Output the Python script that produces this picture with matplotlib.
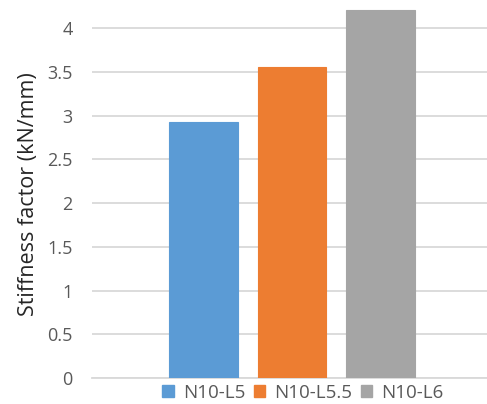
import matplotlib
matplotlib.use("Agg")
import matplotlib.pyplot as plt
from matplotlib.patches import Patch

series = ["N10-L5", "N10-L5.5", "N10-L6"]
values = [2.93, 3.56, 4.21]
colors = ["#5B9BD5", "#ED7D31", "#A5A5A5"]
yticks = [0, 0.5, 1, 1.5, 2, 2.5, 3, 3.5, 4]
ytick_labels = ["0", "0.5", "1", "1.5", "2", "2.5", "3", "3.5", "4"]

plt.rcParams['font.family'] = ['Open Sans', 'DejaVu Sans']

fig = plt.figure(figsize=(4.87, 4.04), dpi=100)
ax = fig.add_axes([92 / 487, 26 / 404, 1 - 92 / 487, 1 - 26 / 404])

x = list(range(len(series)))
for xi, v, c, name in zip(x, values, colors, series):
    ax.bar(xi, v, width=0.775, color=c, edgecolor=c, linewidth=0.8, label=name, zorder=3)

ax.set_xlim(-1.262, 3.206)
ax.set_ylim(0, 4.32)
ax.set_yticks(yticks)
ax.set_yticklabels(ytick_labels)
ax.set_xticks([])
ax.grid(axis='y', color='#D9D9D9', linewidth=1.3, zorder=0)
for s in ['top', 'right', 'left']:
    ax.spines[s].set_visible(False)
ax.spines['bottom'].set_color('#D9D9D9')
ax.spines['bottom'].set_linewidth(1.3)
ax.tick_params(axis='y', length=0, labelsize=13, labelcolor='#595959', pad=14)
ax.set_ylabel("Stiffness factor (kN/mm)", fontsize=15.5, color='#262626')
ax.yaxis.set_label_coords(-0.135, 0.487)

handles = [Patch(facecolor=c, edgecolor=c) for c in colors]
fig.legend(handles, series, loc='center', bbox_to_anchor=(303 / 487, 1 - 393 / 404),
           ncol=3, frameon=False, fontsize=13.5, labelcolor='#595959',
           handlelength=0.6, handleheight=0.6, handletextpad=0.5, columnspacing=0.45)

fig.savefig("out.png", dpi=100)
